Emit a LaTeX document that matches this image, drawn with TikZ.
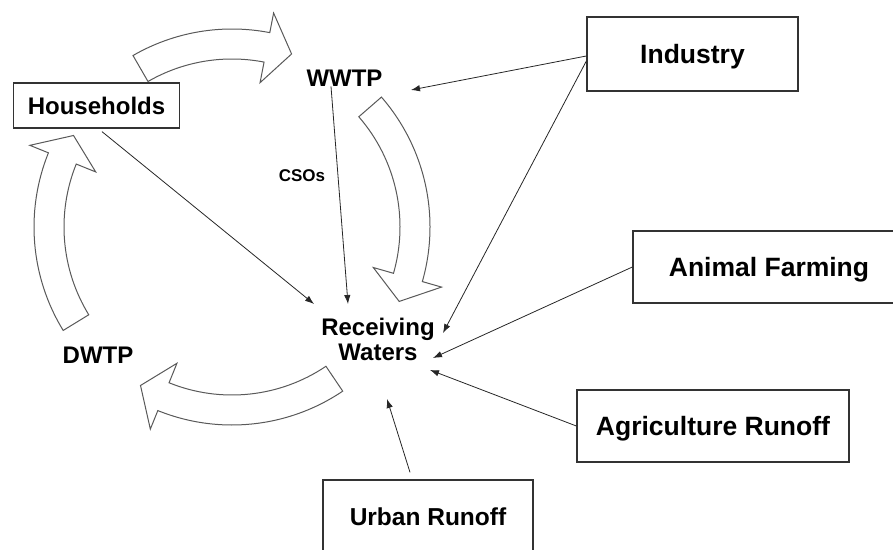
\documentclass[tikz,border=0pt]{standalone}
\usepackage{fontspec}
\setmainfont{Liberation Sans}
\usetikzlibrary{positioning,shapes,arrows,arrows.meta,calc}

\begin{document}
\begin{tikzpicture}[x=1pt, y=1pt, >={Latex[length=9pt,width=6.5pt]},
 box/.style={draw=black!80, line width=1.3pt, fill=white, font=\bfseries\fontsize{26.5}{28}\selectfont,
            text depth=0pt, minimum height=73pt},
 lbl/.style={font=\bfseries\fontsize{24}{26}\selectfont, text depth=0pt, inner sep=0pt},
 flow/.style={->, draw=black!85, line width=0.8pt},
 bigarrow/.style={draw=black!65, line width=1pt, fill=white, line join=miter}]

            \useasboundingbox (0,0) rectangle (893,549);
            \clip (0,0) rectangle (893,549);

            % curved block arrows round the cycle
            \coordinate (c) at (232,322);
            \foreach \t/\b/\p in {120/79/71, 41/-16/-24, -56/-112/-120, -148.5/-202/-210}
                \draw[bigarrow] ($(c)+(\t:198)$) arc[start angle=\t, end angle=\b, radius=198pt]
                    -- ($(c)+(\b:218)$) -- ($(c)+(\p:183)$) -- ($(c)+(\b:147)$) -- ($(c)+(\b:168)$)
                    arc[start angle=\b, end angle=\t, radius=168pt] -- cycle;

            \node[box, lbl, draw=black!80, line width=1.3pt, inner sep=2pt, minimum width=166pt, minimum height=45pt] (hh) at (96.5,443.5) {Households};
            \node[box, minimum width=211pt, minimum height=74pt] (ind) at (692.5,495) {Industry};
            \node[box, minimum width=272pt, minimum height=72pt] (af) at (769,282) {Animal Farming};
            \node[box, minimum width=272pt, minimum height=72pt] (ag) at (713,123) {Agriculture Runoff};
            \node[box, minimum width=210pt, minimum height=74pt, font=\bfseries\fontsize{24.5}{26}\selectfont] (ur) at (428,32) {Urban Runoff};

            \node[lbl] (wwtp) at (344.5,471) {WWTP};
            \node[lbl, align=center] (rw) at (378,209.5) {Receiving\\[-1pt]Waters};
            \node[lbl] (dwtp) at (98,193.5) {DWTP};
            \node[lbl, font=\bfseries\fontsize{17}{19}\selectfont] (cso) at (302,373) {CSOs};

			\draw[flow] ([xshift=5.5pt,yshift=-3pt]hh.south) -- ([shift={(-64,35.5)}]rw.center);
			\draw[flow] ([xshift=-13.5pt]wwtp.south) -- ([shift={(-30,35.5)}]rw.center);
			\draw[flow] ([yshift=-2pt]ind.west) -- ([shift={(66.5,-12)}]wwtp.center);
			\draw[flow] ([yshift=-7pt]ind.west) -- ([shift={(65,6.5)}]rw.center);
			\draw[flow] (af.west) -- ([shift={(55,-18.5)}]rw.center);
			\draw[flow] (ag.west) -- ([shift={(52,-30.5)}]rw.center);
			\draw[flow] ([xshift=-18pt,yshift=7pt]ur.north) -- ([shift={(9,-59.5)}]rw.center);
\end{tikzpicture}
\end{document}
